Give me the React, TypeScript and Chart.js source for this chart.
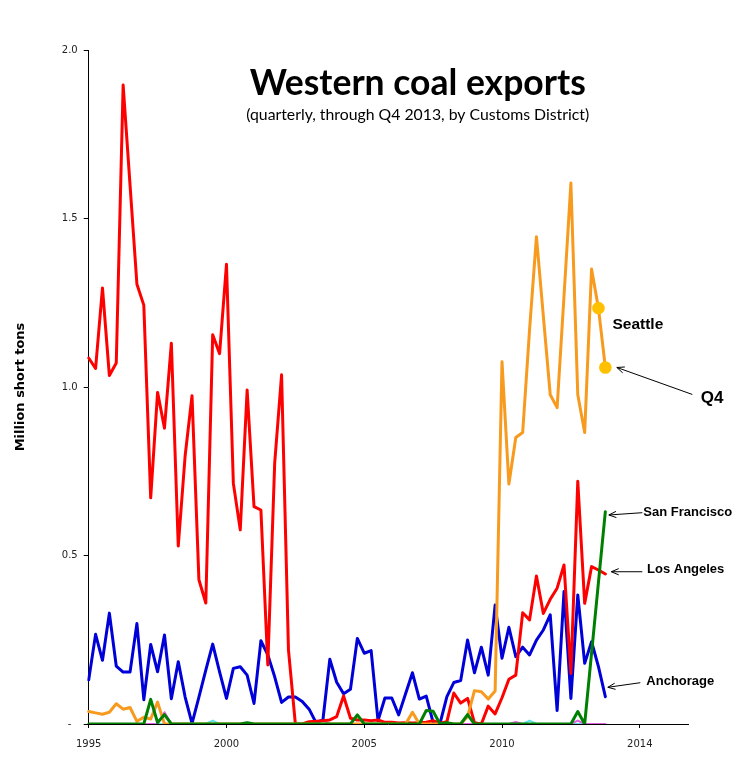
import React, { useEffect, useRef } from 'react';
import { Chart, registerables } from 'chart.js';

Chart.register(...registerables);

// quarterly categories, 1995 Q1 .. 2016 Q4 (data runs through 2013 Q4)
const quarters: string[] = [];
for (let y = 1995; y <= 2016; y++) {
  for (let q = 1; q <= 4; q++) quarters.push(`${y} Q${q}`);
}

// label shown every 20 quarters
const tickLabels = ['1995', '2000', '2005', '2010', '2014'];

// million short tons, by customs district
const losAngeles = [
  1.086, 1.055, 1.294, 1.034, 1.071, 1.896, 1.6, 1.305, 1.243, 0.671,
  0.984, 0.878, 1.13, 0.528, 0.796, 0.974, 0.428, 0.359, 1.155, 1.099,
  1.364, 0.714, 0.576, 0.991, 0.645, 0.635, 0.175, 0.774, 1.036, 0.22,
  0, 0, 0.007, 0.008, 0.01, 0.012, 0.022, 0.083, 0.017, 0.012,
  0.012, 0.01, 0.012, 0.005, 0.005, 0.003, 0.004, 0.003, 0.004, 0.005,
  0.01, 0.002, 0.007, 0.092, 0.062, 0.076, 0.004, 0, 0.053, 0.03,
  0.078, 0.133, 0.145, 0.33, 0.309, 0.439, 0.328, 0.37, 0.403, 0.472,
  0.15, 0.72, 0.358, 0.467, 0.457, 0.445,
];

const anchorage = [
  0.131, 0.266, 0.189, 0.329, 0.172, 0.154, 0.154, 0.298, 0.072, 0.236,
  0.155, 0.264, 0.075, 0.185, 0.08, 0.002, 0.08, 0.16, 0.237, 0.155,
  0.076, 0.165, 0.17, 0.145, 0.061, 0.247, 0.205, 0.14, 0.064, 0.08,
  0.08, 0.067, 0.044, 0.004, 0.012, 0.192, 0.124, 0.09, 0.103, 0.254,
  0.21, 0.218, 0.01, 0.077, 0.077, 0.027, 0.09, 0.152, 0.074, 0.083,
  0.005, 0.002, 0.081, 0.123, 0.129, 0.249, 0.152, 0.228, 0.145, 0.353,
  0.195, 0.287, 0.2, 0.228, 0.205, 0.249, 0.279, 0.324, 0.04, 0.393,
  0.076, 0.383, 0.18, 0.244, 0.17, 0.081,
];

const seattle = [
  0.037, 0.033, 0.029, 0.035, 0.06, 0.044, 0.049, 0.008, 0.02, 0.015,
  0.065, 0, 0, 0, 0, 0, 0, 0, 0, 0,
  0, 0, 0, 0, 0, 0, 0, 0, 0, 0,
  0, 0, 0, 0, 0, 0, 0, 0, 0, 0,
  0, 0, 0, 0, 0, 0, 0, 0.035, 0, 0,
  0, 0, 0, 0, 0, 0.022, 0.099, 0.096, 0.074, 0.098,
  1.075, 0.712, 0.85, 0.865, 1.17, 1.446, 1.21, 0.977, 0.939, 1.27,
  1.605, 0.977, 0.865, 1.35, 1.234, 1.058,
];

const sanFrancisco = [
  0, 0, 0, 0, 0, 0, 0, 0, 0, 0.073,
  0.004, 0.028, 0, 0, 0, 0, 0, 0, 0, 0,
  0, 0, 0, 0.004, 0, 0, 0, 0, 0, 0,
  0, 0, 0, 0, 0, 0, 0, 0, 0, 0.027,
  0, 0, 0, 0, 0, 0, 0, 0, 0, 0.04,
  0.038, 0, 0.004, 0, 0, 0.028, 0, 0, 0, 0,
  0, 0, 0, 0, 0, 0, 0, 0, 0, 0,
  0, 0.037, 0, null, null, 0.63,
];

// small districts, barely off the axis
const otherA = [
  0, 0, 0, 0, 0, 0, 0, 0, 0, 0, 0, 0.035, 0, 0, 0, 0, 0, 0, 0, 0,
  0, 0, 0, 0, 0, 0, 0, 0, 0, 0, 0, 0, 0, 0, 0.012, 0, 0, 0, 0, 0,
  0, 0, 0, 0, 0, 0, 0, 0, 0, 0, 0, 0, 0, 0, 0, 0, 0, 0, 0, 0,
  0, 0, 0.006, 0, 0, 0, 0, 0, 0, 0, 0, 0.01, 0, 0, 0, 0,
];
const otherB = [
  0, 0, 0, 0, 0, 0, 0, 0, 0, 0, 0, 0, 0, 0, 0, 0, 0, 0, 0.01, 0,
  0, 0, 0, 0, 0, 0, 0, 0, 0, 0, 0, 0, 0, 0, 0, 0, 0, 0, 0, 0,
  0, 0, 0, 0, 0, 0, 0, 0, 0, 0, 0, 0, 0, 0, 0, 0, 0, 0, 0, 0,
  0, 0, 0, 0, 0.01, 0, 0, 0, 0, 0, 0, 0, 0, 0, 0, 0,
];

const arrow = (ctx: CanvasRenderingContext2D, x1: number, y1: number, x2: number, y2: number) => {
  // line from tail (x1,y1) to tip (x2,y2) with an open head
  const a = Math.atan2(y2 - y1, x2 - x1);
  ctx.beginPath();
  ctx.moveTo(x1, y1);
  ctx.lineTo(x2, y2);
  ctx.moveTo(x2 - 8 * Math.cos(a - 0.4), y2 - 8 * Math.sin(a - 0.4));
  ctx.lineTo(x2, y2);
  ctx.lineTo(x2 - 8 * Math.cos(a + 0.4), y2 - 8 * Math.sin(a + 0.4));
  ctx.stroke();
};

const calloutPlugin = {
  id: 'callouts',
  afterDraw(chart: Chart) {
    const { ctx, chartArea } = chart;
    const pt = (label: string, idx: number) => {
      const i = chart.data.datasets.findIndex((d) => d.label === label);
      const el = chart.getDatasetMeta(i).data[idx];
      return { x: el.x, y: el.y };
    };
    ctx.save();
    ctx.fillStyle = '#000';
    ctx.strokeStyle = '#000';
    ctx.lineWidth = 1;

    // title
    ctx.textAlign = 'center';
    ctx.textBaseline = 'alphabetic';
    ctx.font = 'bold 35.5px Lato';
    ctx.fillText('Western coal exports', chartArea.left + 329, chartArea.top + 45);
    ctx.font = '15.8px Lato';
    ctx.fillText('(quarterly, through Q4 2013, by Customs District)', chartArea.left + 329, chartArea.top + 70);

    ctx.textAlign = 'left';
    ctx.textBaseline = 'middle';

    const s74 = pt('Seattle', 74);
    ctx.font = 'bold 15.5px "Liberation Sans"';
    ctx.fillText('Seattle', s74.x + 14, s74.y + 17);

    const s75 = pt('Seattle', 75);
    arrow(ctx, s75.x + 87, s75.y + 27, s75.x + 11.5, s75.y);
    ctx.font = 'bold 17px "Liberation Sans"';
    ctx.fillText('Q4', s75.x + 95.5, s75.y + 31);

    ctx.font = 'bold 13px "Liberation Sans"';
    const sf = pt('San Francisco', 75);
    arrow(ctx, sf.x + 37, sf.y + 1, sf.x + 3.5, sf.y + 3.3);
    ctx.fillText('San Francisco', sf.x + 38, sf.y + 0.5);

    const la = pt('Los Angeles', 75);
    arrow(ctx, la.x + 37, la.y - 2.3, la.x + 6, la.y - 2.3);
    ctx.fillText('Los Angeles', la.x + 41.7, la.y - 4.5);

    const an = pt('Anchorage', 75);
    arrow(ctx, an.x + 35, an.y - 14, an.x + 2.5, an.y - 9.4);
    ctx.fillText('Anchorage', an.x + 41, an.y - 15);
    ctx.restore();
  },
};

const line = (label: string, data: (number | null)[], color: string, width = 3) => ({
  label,
  data,
  borderColor: color,
  backgroundColor: color,
  borderWidth: width,
  pointRadius: 0,
  tension: 0,
  borderJoinStyle: 'round' as const,
  borderCapStyle: 'round' as const,
  fill: false,
});

const App: React.FC = () => {
  const canvasRef = useRef<HTMLCanvasElement>(null);
  const chartRef = useRef<Chart | null>(null);

  useEffect(() => {
    if (!canvasRef.current) return;
    if (chartRef.current) chartRef.current.destroy();
    const ctx = canvasRef.current.getContext('2d');
    if (!ctx) return;

    chartRef.current = new Chart(ctx, {
      type: 'line',
      data: {
        labels: quarters,
        datasets: [
          { ...line('San Francisco', sanFrancisco, '#008000'), spanGaps: true },
          {
            ...line('Seattle', seattle, '#F79A1E'),
            pointRadius: (c: any) => (c.dataIndex >= 74 ? 4.8 : 0),
            pointBackgroundColor: '#FFC000',
            pointBorderColor: '#FFC000',
          },
          line('Los Angeles', losAngeles, '#FF0000'),
          line('Anchorage', anchorage, '#0000D8'),
          line('Other A', otherA, '#E060E0', 2),
          line('Other B', otherB, '#60E0E8', 2),
        ],
      },
      options: {
        responsive: false,
        animation: false,
        layout: { padding: { top: 50, right: 63, left: 0, bottom: 0 } },
        plugins: {
          legend: { display: false },
          tooltip: { enabled: false },
        },
        scales: {
          x: {
            type: 'category',
            offset: false,
            afterFit: (scale: any) => {
              scale.height = 59;
            },
            border: { display: true, color: '#000', width: 1 },
            grid: {
              drawOnChartArea: false,
              tickLength: 4,
              tickColor: (c: any) => (c.index % 20 === 0 ? '#000' : 'rgba(0,0,0,0)'),
            },
            ticks: {
              autoSkip: false,
              maxRotation: 0,
              padding: 10,
              color: '#222',
              font: { family: '"DejaVu Sans"', size: 10 },
              callback: (_v: any, i: number) => (i % 20 === 0 ? tickLabels[i / 20] : ''),
            },
          },
          y: {
            min: 0,
            max: 2,
            afterFit: (scale: any) => {
              scale.width = 88.7;
            },
            border: { display: true, color: '#000', width: 1 },
            grid: { drawOnChartArea: false, tickLength: 5, color: '#000' },
            ticks: {
              stepSize: 0.5,
              padding: 6,
              color: '#222',
              font: { family: '"DejaVu Sans"', size: 10 },
              callback: (v: any) => (v === 0 ? '-  ' : Number(v).toFixed(1)),
            },
            title: {
              display: true,
              text: 'Million short tons',
              color: '#000',
              padding: { top: 13, bottom: 0 },
              font: { family: '"DejaVu Sans"', size: 13, weight: 'bold' },
            },
          },
        },
      },
      plugins: [calloutPlugin],
    });

    return () => {
      if (chartRef.current) {
        chartRef.current.destroy();
        chartRef.current = null;
      }
    };
  }, []);

  return (
    <div style={{ position: 'absolute', left: 0, top: 0, width: 751, height: 783, background: '#fff' }}>
      <canvas ref={canvasRef} width={751} height={783}></canvas>
    </div>
  );
};

export default App;
